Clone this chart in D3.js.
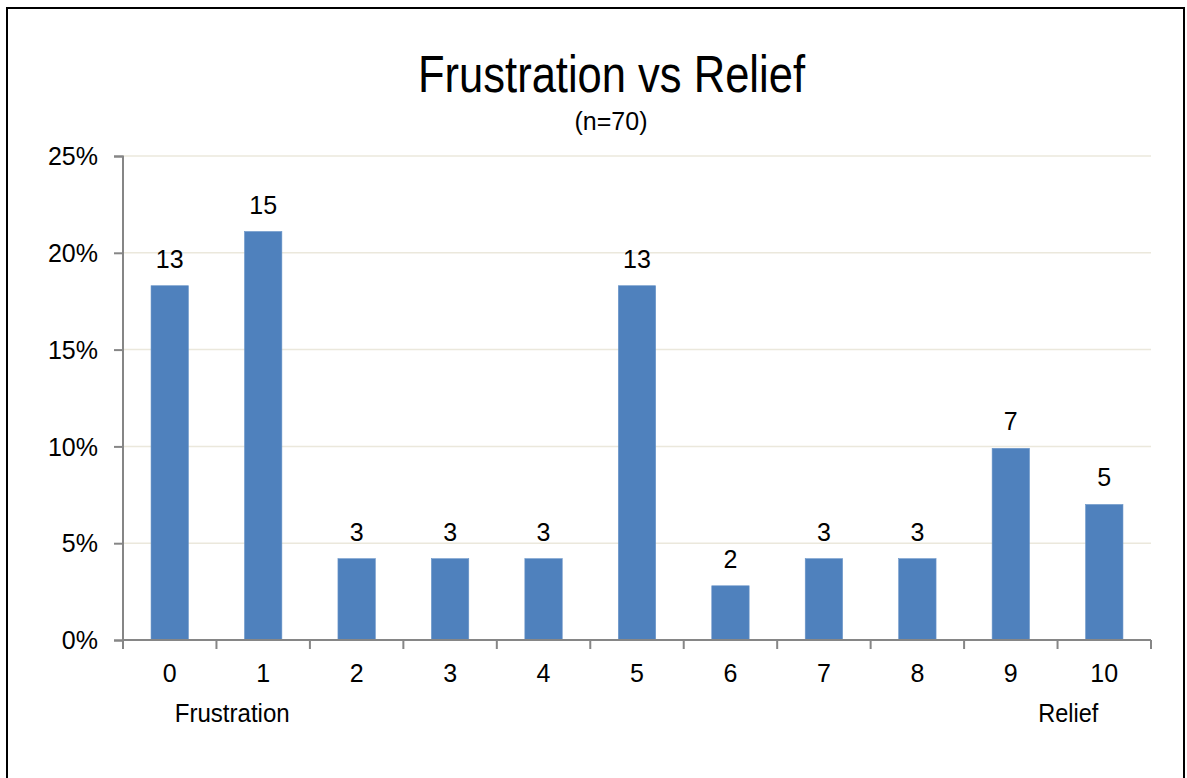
<!DOCTYPE html>
<html><head><meta charset="utf-8">
<script src="https://cdn.jsdelivr.net/npm/d3@7"></script>
<style>
html,body{margin:0;padding:0;background:#fff;}
svg text{font-family:"Liberation Sans Narrow","Arial Narrow","Liberation Sans",Arial,sans-serif;fill:#000;}
</style></head>
<body>
<svg id="chart" width="1187" height="778"></svg>
<script>
const categories = ["0","1","2","3","4","5","6","7","8","9","10"];
const percents = [18.3, 21.1, 4.2, 4.2, 4.2, 18.3, 2.8, 4.2, 4.2, 9.9, 7.0];
const counts = [13, 15, 3, 3, 3, 13, 2, 3, 3, 7, 5];
const yTicks = [0, 5, 10, 15, 20, 25];
const title = "Frustration vs Relief";
const subtitle = "(n=70)";
const leftEndLabel = "Frustration";
const rightEndLabel = "Relief";

const svg = d3.select("#chart");
svg.append("rect").attr("x",7).attr("y",8).attr("width",1177).attr("height",800)
  .attr("fill","none").attr("stroke","#000").attr("stroke-width",2);

const x = d3.scaleBand().domain(categories).range([123,1151]).paddingInner(0.6).paddingOuter(0.3);
const y = d3.scaleLinear().domain([0,25]).range([640,156]);

// gridlines
svg.append("g").selectAll("line").data(yTicks.filter(d=>d>0)).join("line")
  .attr("x1",123).attr("x2",1151).attr("y1",d=>y(d)).attr("y2",d=>y(d))
  .attr("stroke","#ebe8dc").attr("stroke-width",1.5);

// bars
svg.append("g").selectAll("rect").data(categories).join("rect")
  .attr("x",d=>x(d)).attr("width",x.bandwidth())
  .attr("y",(d,i)=>y(percents[i])).attr("height",(d,i)=>y(0)-y(percents[i]))
  .attr("fill","#4f81bd").attr("stroke","#6a95c8").attr("stroke-width",0.6);

// value labels
svg.append("g").selectAll("text").data(categories).join("text")
  .attr("x",d=>x(d)+x.bandwidth()/2).attr("y",(d,i)=>y(percents[i])-18)
  .attr("text-anchor","middle").attr("font-size",25).text((d,i)=>counts[i]);

// y axis
const yAxis = d3.axisLeft(y).tickValues(yTicks).tickFormat(d=>d+"%").tickSize(9).tickPadding(16);
const gy = svg.append("g").attr("transform","translate(123,0)").call(yAxis);
gy.selectAll("path,line").attr("stroke","#868686").attr("stroke-width",2);
gy.selectAll("text").attr("font-size",25).attr("dy","0.35em");
gy.select(".domain").attr("d","M-9,156.5H0V640.5H-9");

// x axis
const bounds = d3.range(categories.length+1).map(i=>123+ i*(1028/categories.length));
const gx = svg.append("g");
gx.append("line").attr("x1",123).attr("x2",1151).attr("y1",640).attr("y2",640)
  .attr("stroke","#868686").attr("stroke-width",2);
gx.selectAll("line.t").data(bounds).join("line").attr("class","t")
  .attr("x1",d=>d).attr("x2",d=>d).attr("y1",640).attr("y2",649)
  .attr("stroke","#868686").attr("stroke-width",2);
gx.selectAll("text").data(categories).join("text")
  .attr("x",d=>x(d)+x.bandwidth()/2).attr("y",682)
  .attr("text-anchor","middle").attr("font-size",25).text(d=>d);

// end labels
svg.append("text").attr("x",x(categories[0])+x.bandwidth()/2+5).attr("y",722)
  .attr("font-size",25).attr("textLength",115).attr("lengthAdjust","spacingAndGlyphs").text(leftEndLabel);
svg.append("text").attr("x",x(categories[categories.length-1])+x.bandwidth()/2-66).attr("y",722)
  .attr("font-size",25).attr("textLength",60).attr("lengthAdjust","spacingAndGlyphs").text(rightEndLabel);

// titles
svg.append("text").attr("x",418).attr("y",92)
  .attr("font-size",52).attr("textLength",387).attr("lengthAdjust","spacingAndGlyphs").text(title);
svg.append("text").attr("x",611).attr("y",130).attr("text-anchor","middle")
  .attr("font-size",25).text(subtitle);
</script>
</body></html>
